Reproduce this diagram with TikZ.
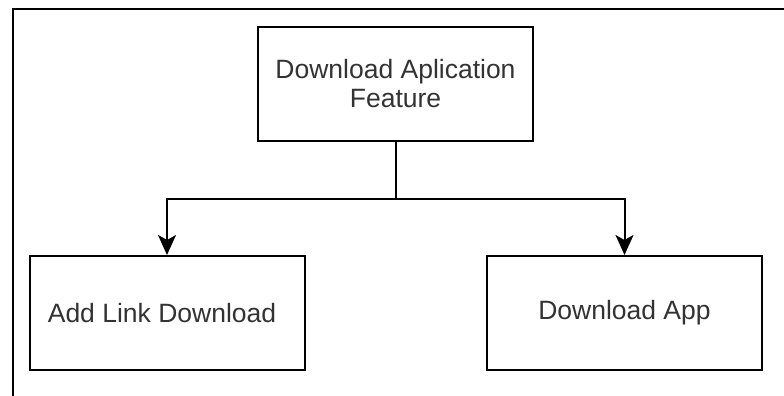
\documentclass[tikz,border=0pt]{standalone}
\usepackage{fontspec}
\setmainfont{Liberation Sans}
\usetikzlibrary{arrows.meta}
\definecolor{txt}{HTML}{333333}
\tikzset{
  box/.style={draw=black, line width=2pt, minimum width=275pt, minimum height=114pt, inner sep=0pt, align=center, text=txt, font=\fontsize{26.5}{29}\selectfont},
  conn/.style={line width=2pt, -{Stealth[length=20pt, width=18pt, inset=5pt]}},
}
\begin{document}
\begin{tikzpicture}[x=1pt,y=-1pt]
\useasboundingbox (0,0) rectangle (784,396);
\fill[white] (0,0) rectangle (784,396);
\draw[line width=2.6pt] (13,396) -- (13,9) -- (784,9);
\node[box] (top) at (395.5,84) {Download Aplication\\Feature};
\node[box] (left) at (167,313) {Add Link Download\hspace{10pt}};
\node[box] (right) at (624.5,313) {Download App};
\coordinate (j) at (396,199);
\draw[line width=2pt] (top.south) -- (top.south |- j);
\draw[conn] (top.south |- j) -| (left.north);
\draw[conn] (top.south |- j) -| (right.north);
\end{tikzpicture}
\end{document}
